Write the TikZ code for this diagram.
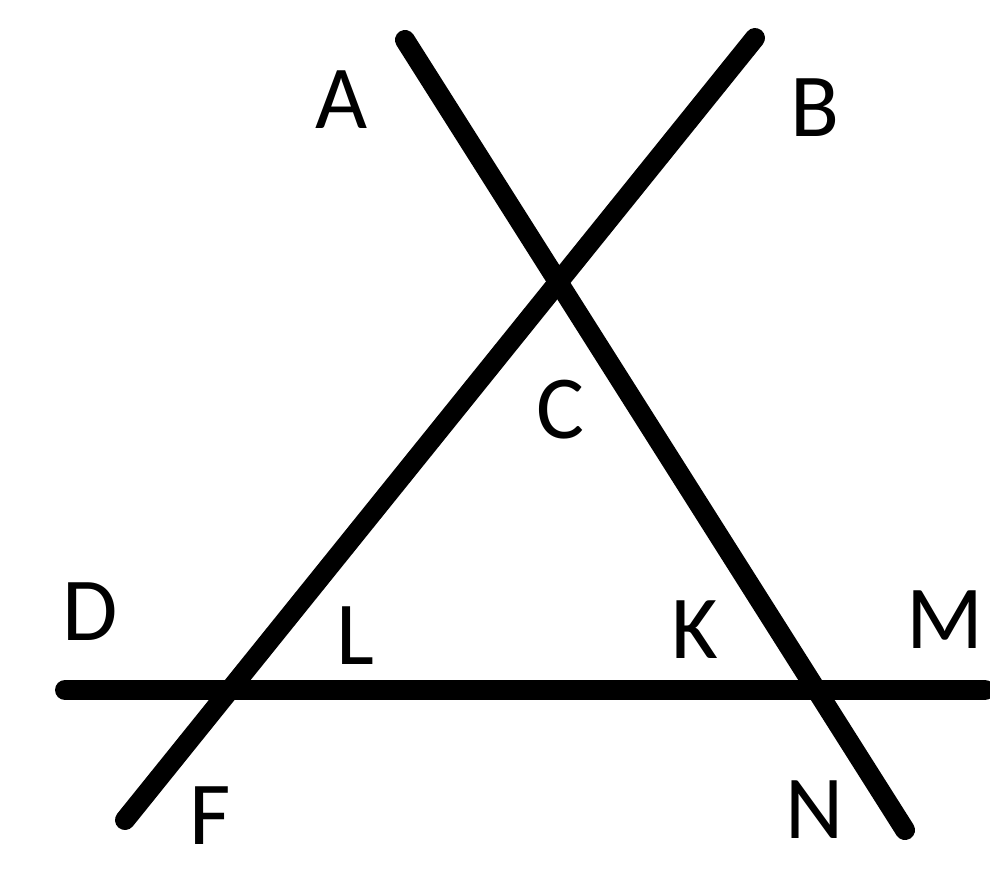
\documentclass[tikz,border=0pt]{standalone}
\usepackage{fontspec}
\setmainfont{Carlito}
\begin{document}
\begin{tikzpicture}[x=0.5pt,y=-0.5pt,
  ln/.style={line width=10pt,line cap=round,black},
  lbl/.style={inner sep=0pt,font=\fontsize{45}{54}\selectfont}]
\useasboundingbox (0,0) rectangle (990,868);
\coordinate (pA) at (405,40);
\coordinate (pN) at (905,830);
\coordinate (pB) at (755,38);
\coordinate (pF) at (125,820);
\coordinate (pD) at (65,690);
\coordinate (pM) at (985,690);
\draw[ln] (pA) -- (pN);
\draw[ln] (pB) -- (pF);
\draw[ln] (pD) -- (pM);
\node[lbl] (A) at (342,100) {A};
\node[lbl] (B) at (815,108) {B};
\node[lbl] (C) at (560,410) {C};
\node[lbl] (D) at (90,612) {D};
\node[lbl] (L) at (355,636) {L};
\node[lbl] (K) at (695,630) {K};
\node[lbl] (M) at (945,620) {M};
\node[lbl] (F) at (210,816) {F};
\node[lbl] (N) at (815,810) {N};
\end{tikzpicture}
\end{document}
